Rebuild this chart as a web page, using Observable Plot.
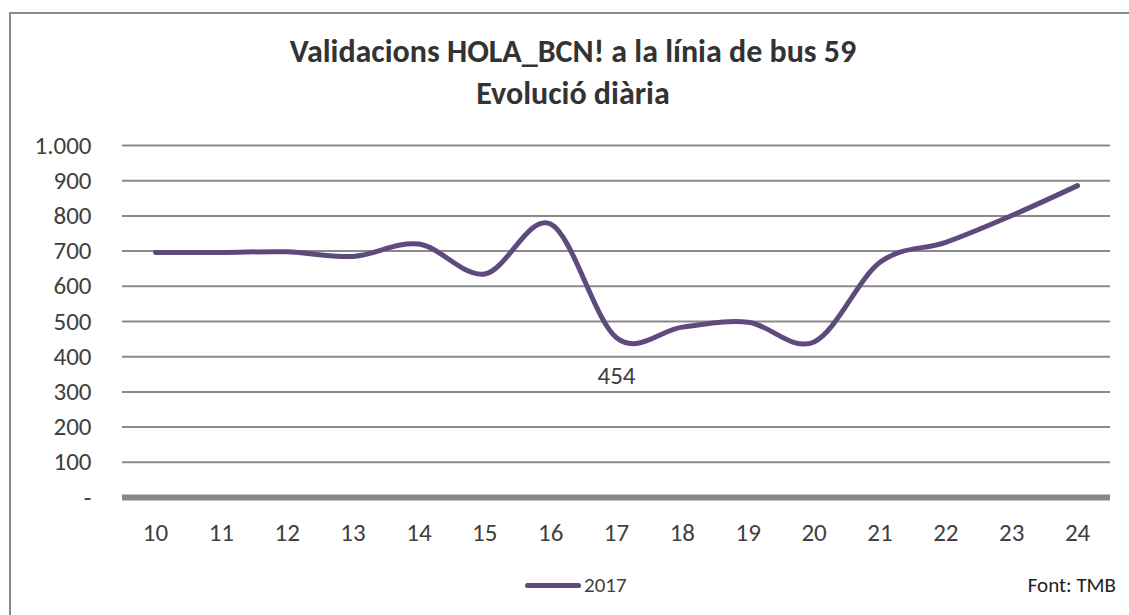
<!DOCTYPE html>
<html>
<head>
<meta charset="utf-8">
<script src="https://cdn.jsdelivr.net/npm/d3@7"></script>
<script src="https://cdn.jsdelivr.net/npm/@observablehq/plot@0.6"></script>
<style>
  html, body { margin: 0; padding: 0; background: #fff; }
  body { width: 1129px; height: 615px; overflow: hidden; font-family: Carlito, Lato, sans-serif; }
  #wrap { position: relative; width: 1129px; height: 615px; }
  #frame { position: absolute; left: 9px; top: 12px; width: 1140px; height: 640px; border: 2px solid #8a8a8a; box-sizing: border-box; }
  #title { position: absolute; left: 9px; width: 1128px; top: 31px; text-align: center; font-weight: bold; font-size: 32px; line-height: 42px; color: #333; }
  #chart { position: absolute; left: 0; top: 130px; }
  #legend { position: absolute; left: 525px; top: 570px; height: 30px; display: flex; align-items: center; font-size: 21px; color: #404040; }
  #legend .sw { width: 56px; height: 5px; background: #5f4a7d; border-radius: 3px; margin-right: 3px; }
  #source { position: absolute; right: 13px; top: 570px; height: 30px; line-height: 30px; font-size: 21px; color: #222; }
</style>
</head>
<body>
<div id="wrap">
  <div id="frame"></div>
  <div id="title">Validacions HOLA_BCN! a la línia de bus 59<br>Evolució diària</div>
  <div id="chart"></div>
  <div id="legend"><div class="sw"></div><span>2017</span></div>
  <div id="source">Font: TMB</div>
</div>
<script>
const days = [10, 11, 12, 13, 14, 15, 16, 17, 18, 19, 20, 21, 22, 23, 24];
const validations2017 = [696, 696, 698, 685, 720, 635, 777, 454, 484, 498, 442, 668, 725, 801, 886];
const yTicks = [0, 100, 200, 300, 400, 500, 600, 700, 800, 900, 1000];
const seriesName = "2017";
const labelDay = 17;
const labelValue = 454;

const data = days.map((d, i) => ({day: d, value: validations2017[i]}));
const fmtY = d => d === 0 ? "-" : d3.format(",")(d).replace(/,/g, ".");

const chart = Plot.plot({
  width: 1129,
  height: 430,
  marginTop: 15,
  marginBottom: 63,
  marginLeft: 122,
  marginRight: 19,
  style: {fontFamily: "Carlito, Lato, sans-serif", color: "#404040", background: "transparent"},
  x: {type: "point", domain: days, padding: 0.5, round: false, label: null},
  y: {domain: [0, 1000], label: null},
  marks: [
    Plot.ruleY(yTicks.filter(d => d > 0), {stroke: "#8a8a8a", strokeWidth: 2, strokeOpacity: 1}),
    Plot.ruleY([0], {stroke: "#888888", strokeWidth: 6, strokeOpacity: 1}),
    Plot.axisY({ticks: yTicks, tickFormat: fmtY, tickSize: 0, tickPadding: 31, fontSize: 25, label: null}),
    Plot.axisX({tickSize: 0, tickPadding: 26, fontSize: 25, label: null}),
    Plot.line(data, {x: "day", y: "value", curve: "cardinal", stroke: "#5f4a7d", strokeWidth: 5, strokeLinecap: "round", strokeLinejoin: "round"}),
    Plot.text([{day: labelDay, value: labelValue}], {x: "day", y: "value", text: d => String(d.value), dy: 38, fontSize: 25, fill: "#404040"})
  ]
});
document.getElementById("chart").appendChild(chart);
</script>
</body>
</html>
